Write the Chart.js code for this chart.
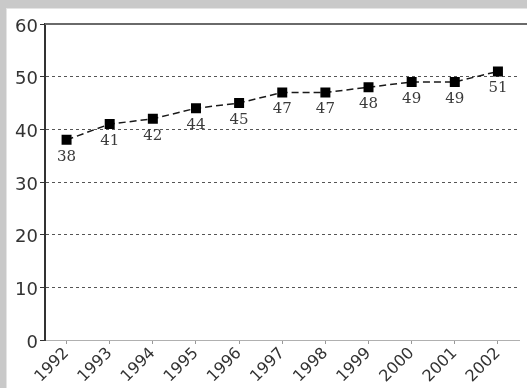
<!DOCTYPE html>
<html>
<head>
<meta charset="utf-8">
<script src="https://cdn.jsdelivr.net/npm/chart.js@4/dist/chart.umd.min.js"></script>
<style>
  html, body { margin: 0; padding: 0; background: #c9c9c9; overflow: hidden; }
  #frame { position: absolute; left: 6px; top: 8px; width: 540px; height: 400px;
           background: #ffffff; border-left: 1px solid #e4e4e4; border-top: 1px solid #e4e4e4; }
  #wrap { position: absolute; left: 0; top: 0; width: 527px; height: 388px; }
</style>
</head>
<body>
<div id="frame"></div>
<div id="wrap"><canvas id="c" width="527" height="388"></canvas></div>
<script>
const years = ['1992','1993','1994','1995','1996','1997','1998','1999','2000','2001','2002'];
const values = [38, 41, 42, 44, 45, 47, 47, 48, 49, 49, 51];
const yTicks = [0, 10, 20, 30, 40, 50, 60];

// value labels under each marker
const pointLabels = {
  id: 'pointLabels',
  afterDatasetsDraw(chart) {
    const ctx = chart.ctx;
    const meta = chart.getDatasetMeta(0);
    ctx.save();
    ctx.font = '15px "DejaVu Serif", serif';
    ctx.fillStyle = '#3a3a3a';
    ctx.textAlign = 'center';
    ctx.textBaseline = 'middle';
    meta.data.forEach((pt, i) => {
      ctx.fillText(String(values[i]), pt.x, pt.y + 17);
    });
    ctx.restore();
  }
};

// heavy rule along the top of the plot
const topRule = {
  id: 'topRule',
  afterDraw(chart) {
    const { ctx, chartArea } = chart;
    ctx.save();
    ctx.strokeStyle = '#6a6a6a';
    ctx.lineWidth = 2;
    ctx.beginPath();
    ctx.moveTo(chartArea.left, chartArea.top);
    ctx.lineTo(chart.width, chartArea.top);
    ctx.stroke();
    ctx.restore();
  }
};

new Chart(document.getElementById('c'), {
  type: 'line',
  data: {
    labels: years,
    datasets: [{
      data: values,
      borderColor: '#1a1a1a',
      borderWidth: 1.5,
      borderDash: [7, 4],
      pointStyle: 'rect',
      pointRadius: 6,
      pointHoverRadius: 6,
      pointBackgroundColor: '#000',
      pointBorderColor: '#000',
      tension: 0
    }]
  },
  options: {
    responsive: false,
    animation: false,
    events: [],
    layout: { padding: { top: 24, right: 0, left: 0, bottom: 0 } },
    plugins: { legend: { display: false }, tooltip: { enabled: false } },
    scales: {
      x: {
        offset: true,
        grid: { display: true, drawOnChartArea: false, color: '#999', tickLength: 4, offset: false },
        border: { color: '#b0b0b0', width: 1 },
        ticks: {
          minRotation: 45, maxRotation: 45, autoSkip: false,
          color: '#333', padding: 0,
          font: { family: '"DejaVu Sans", sans-serif', size: 16 }
        },
        afterFit(scale) { scale.height = 48; }
      },
      y: {
        min: 0, max: 60,
        afterBuildTicks(scale) { scale.ticks = yTicks.map(v => ({ value: v })); },
        grid: {
          color: (c) => (c.tick && (c.tick.value === 0 || c.tick.value === 60)) ? 'rgba(0,0,0,0)' : '#555',
          tickColor: '#333',
          lineWidth: 1,
          tickLength: 5,
          drawTicks: true
        },
        border: { color: '#333', width: 2, dash: [3, 3] },
        ticks: {
          color: '#333', padding: 2, labelOffset: 3,
          font: { family: '"DejaVu Sans", sans-serif', size: 18 }
        },
        afterFit(scale) { scale.width = 45; }
      }
    }
  },
  plugins: [pointLabels, topRule]
});
</script>
</body>
</html>
